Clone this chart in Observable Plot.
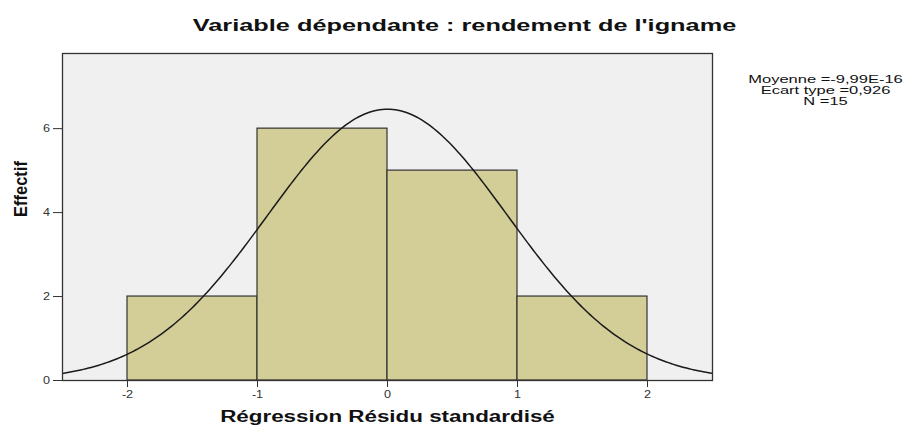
<!DOCTYPE html>
<html>
<head>
<meta charset="utf-8">
<script src="https://cdn.jsdelivr.net/npm/d3@7"></script>
<script src="https://cdn.jsdelivr.net/npm/@observablehq/plot@0.6"></script>
<style>
  html, body { margin: 0; padding: 0; background: #fff; }
  svg { font-family: "Liberation Sans", Arial, sans-serif; }
</style>
</head>
<body>
<div id="chart"></div>
<script>
// Histogram data
const binStart = [-2, -1, 0, 1];
const binEnd = [-1, 0, 1, 2];
const counts = [2, 6, 5, 2];
const xTicks = [-2, -1, 0, 1, 2];
const yTicks = [0, 2, 4, 6];
// Stats from the legend
const mean = -9.99e-16;
const sd = 0.926;
const n = 15;
const binWidth = 1;
const titleText = "Variable dépendante : rendement de l'igname";
const xLabel = "Régression Résidu standardisé";
const yLabel = "Effectif";
const legendText = "Moyenne =-9,99E-16\nEcart type =0,926\nN =15";

const bars = counts.map((c, i) => ({x1: binStart[i], x2: binEnd[i], y: c}));
const curve = d3.range(-2.5, 2.5001, 0.02).map(x => ({
  x,
  y: n * binWidth / (sd * Math.sqrt(2 * Math.PI)) * Math.exp(-0.5 * ((x - mean) / sd) ** 2)
}));

const chart = Plot.plot({
  width: 905,
  height: 430,
  marginLeft: 62,
  marginRight: 193,
  marginTop: 53,
  marginBottom: 50,
  style: {fontFamily: '"Liberation Sans", Arial, sans-serif', background: "#fff"},
  x: {domain: [-2.5, 2.5]},
  y: {domain: [0, 7.79]},
  marks: [
    Plot.frame({fill: "#f0f0f0"}),
    Plot.rect(bars, {x1: "x1", x2: "x2", y1: 0, y2: "y", fill: "#d3ce97", stroke: "#333", strokeWidth: 1.2}),
    Plot.line(curve, {x: "x", y: "y", stroke: "#1a1a1a", strokeWidth: 1.5, clip: true}),
    Plot.frame({stroke: "#333", strokeWidth: 1.3}),
    Plot.axisX({ticks: xTicks, tickFormat: d => String(d), tickSize: 7, fontSize: 11, tickPadding: 3, label: null, color: "#333", stroke: "#333"}),
    Plot.axisY({ticks: yTicks, tickFormat: d => String(d), tickSize: 9, fontSize: 11, tickPadding: 4, label: null, color: "#333", stroke: "#333"}),
    Plot.text([titleText], {frameAnchor: "top", dx: 77, dy: -28, lineAnchor: "middle", fontSize: 17, fontWeight: "bold", fill: "#111"}),
    Plot.text([xLabel], {frameAnchor: "bottom", dy: 36, lineAnchor: "middle", fontSize: 16, fontWeight: "bold", fill: "#111"}),
    Plot.text([yLabel], {frameAnchor: "left", dx: -41, rotate: -90, lineAnchor: "middle", fontSize: 16.5, fontWeight: "bold", fill: "#111"}),
    Plot.text([legendText], {frameAnchor: "top-right", dx: 113, dy: 22, textAnchor: "middle", lineAnchor: "top", fontSize: 11, lineHeight: 1.0, fill: "#111"})
  ]
});
document.getElementById("chart").appendChild(chart);

// Horizontally stretch texts to match the reference's wide rendering
function stretchEl(el, s) {
  const parent = el.parentNode;
  const r = el.getBoundingClientRect();
  const pt = chart.createSVGPoint();
  pt.x = r.x + r.width / 2;
  pt.y = r.y + r.height / 2;
  const local = pt.matrixTransform(parent.getScreenCTM().inverse());
  const g = document.createElementNS("http://www.w3.org/2000/svg", "g");
  g.setAttribute("transform", `translate(${local.x},0) scale(${s},1) translate(${-local.x},0)`);
  parent.insertBefore(g, el);
  g.appendChild(el);
}
const tickStrings = new Set([...xTicks, ...yTicks].map(String));
Array.from(chart.querySelectorAll("text")).forEach(el => {
  const t = el.textContent;
  if (t === titleText) stretchEl(el, 1.49);
  else if (t === xLabel) stretchEl(el, 1.4);
  else if (t === yLabel) stretchEl(el, 1.1);
  else if (t.startsWith("Moyenne")) stretchEl(el, 1.5);
  else if (tickStrings.has(t)) stretchEl(el, 1.15);
});
</script>
</body>
</html>
